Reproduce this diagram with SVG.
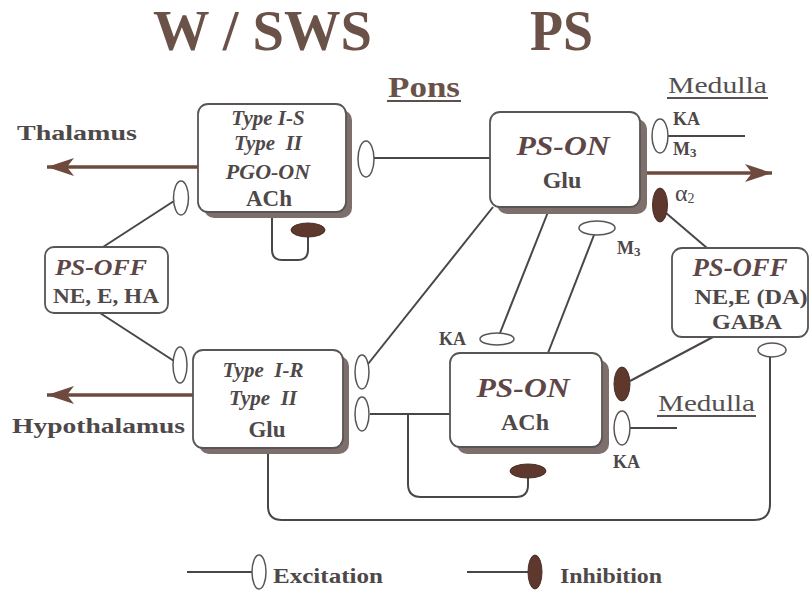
<svg xmlns="http://www.w3.org/2000/svg" width="811" height="590" viewBox="0 0 811 590">
<style>
.bg{fill:#ffffff}
.box{fill:#ffffff;stroke:#5a5555;stroke-width:1.8}
.shadow{fill:#7d6f6b}
.ln{fill:none;stroke:#4a4646;stroke-width:2}
.arr{fill:none;stroke:#6e4a3e;stroke-width:3.5}
.ex{fill:#ffffff;stroke:#5a5555;stroke-width:1.5}
.inh{fill:#5e382c;stroke:#4a2e26;stroke-width:1}
.t{font-family:"Liberation Serif","Times New Roman",serif;font-weight:bold;fill:#4e4848}
.it{font-style:italic}
.hd{fill:#5e4646}
.title{font-family:"Liberation Serif","Times New Roman",serif;font-weight:bold;fill:#6b5249;font-size:56px}
.ul{stroke:#5a5050;stroke-width:2}
</style>
<defs>
<marker id="ah" viewBox="-28 -10 30 20" markerUnits="userSpaceOnUse" markerWidth="30" markerHeight="20" refX="0" refY="0" orient="auto">
<path d="M0,0 L-27,-9 L-20,0 L-27,9 Z" fill="#6e4a3e"/>
</marker>
</defs>
<rect class="bg" x="0" y="0" width="811" height="590"/>

<g id="titles">
<text class="title" x="153" y="50" textLength="219" lengthAdjust="spacingAndGlyphs">W / SWS</text>
<text class="title" x="530" y="50" textLength="63" lengthAdjust="spacingAndGlyphs">PS</text>
<text class="t" x="388" y="97" font-size="29" style="fill:#6b5249" textLength="72" lengthAdjust="spacingAndGlyphs">Pons</text>
<line class="ul" x1="387" y1="101" x2="461" y2="101"/>
<text x="668" y="93" font-family="Liberation Serif, serif" font-size="23" fill="#555050" textLength="99" lengthAdjust="spacingAndGlyphs">Medulla</text>
<line class="ul" x1="667" y1="98" x2="768" y2="98"/>
<text x="658" y="411" font-family="Liberation Serif, serif" font-size="23" fill="#555050" textLength="97" lengthAdjust="spacingAndGlyphs">Medulla</text>
<line class="ul" x1="657" y1="416" x2="756" y2="416"/>
<text class="t" x="17" y="140" font-size="22" textLength="120" lengthAdjust="spacingAndGlyphs">Thalamus</text>
<text class="t" x="12" y="433" font-size="22" textLength="173" lengthAdjust="spacingAndGlyphs">Hypothalamus</text>
</g>

<g id="connectors">
<line class="arr" x1="198" y1="167" x2="47" y2="167" marker-end="url(#ah)"/>
<line class="arr" x1="193" y1="395" x2="47" y2="395" marker-end="url(#ah)"/>
<line class="arr" x1="646" y1="173" x2="772" y2="173" marker-end="url(#ah)"/>
<line class="ln" x1="374" y1="158" x2="490" y2="158"/>
<line class="ln" x1="103" y1="247" x2="174" y2="201"/>
<line class="ln" x1="100" y1="313" x2="174" y2="361"/>
<path class="ln" d="M272 216 V250 Q272 260 282 260 H298 Q308 260 308 250 V237"/>
<line class="ln" x1="368" y1="364" x2="493" y2="207"/>
<line class="ln" x1="370" y1="414" x2="450" y2="414"/>
<path class="ln" d="M408 414 V484 Q408 497 421 497 H516 Q528 497 528 485 V477"/>
<path class="ln" d="M268 453 V506 Q268 520 282 520 H754 Q770 520 770 504 V357"/>
<line class="ln" x1="668" y1="136" x2="745" y2="136"/>
<line class="ln" x1="666" y1="213" x2="707" y2="248"/>
<line class="ln" x1="548" y1="212" x2="500" y2="333"/>
<line class="ln" x1="594" y1="235" x2="548" y2="353"/>
<line class="ln" x1="630" y1="381" x2="713" y2="337"/>
<line class="ln" x1="630" y1="428" x2="677" y2="428"/>
<ellipse class="ex" cx="181" cy="198" rx="7.5" ry="17"/>
<ellipse class="ex" cx="366" cy="159" rx="8" ry="18"/>
<ellipse class="inh" cx="308" cy="230" rx="17" ry="7"/>
<ellipse class="ex" cx="180" cy="365" rx="7" ry="18"/>
<ellipse class="ex" cx="362" cy="372" rx="7" ry="17"/>
<ellipse class="ex" cx="362" cy="414" rx="7" ry="17"/>
<ellipse class="inh" cx="528" cy="471" rx="18" ry="7"/>
<ellipse class="ex" cx="660" cy="136" rx="8" ry="17"/>
<ellipse class="inh" cx="660" cy="205" rx="7.5" ry="17"/>
<ellipse class="ex" cx="597" cy="228" rx="18" ry="7"/>
<ellipse class="ex" cx="497" cy="339" rx="17" ry="6"/>
<ellipse class="inh" cx="622" cy="384" rx="8" ry="17"/>
<ellipse class="ex" cx="622" cy="428" rx="8" ry="17"/>
<ellipse class="ex" cx="772" cy="350" rx="14" ry="7"/>
<text class="t" x="673" y="125" font-size="18">KA</text>
<text class="t" x="673" y="155" font-size="18">M<tspan font-size="13" dy="2">3</tspan></text>
<text x="675" y="201" font-family="Liberation Serif, serif" font-size="24" fill="#4e4848">α<tspan font-size="14" dy="2">2</tspan></text>
<text class="t" x="617" y="254" font-size="18">M<tspan font-size="13" dy="2">3</tspan></text>
<text class="t" x="439" y="345" font-size="18">KA</text>
<text class="t" x="613" y="468" font-size="18">KA</text>
</g>

<g id="type1s">
<rect class="shadow" x="204" y="110" width="148" height="108" rx="10"/>
<rect class="box" x="198" y="104" width="148" height="108" rx="10"/>
<text class="t it" x="268" y="125" font-size="21" text-anchor="middle">Type I-S</text>
<text class="t it" x="268" y="150" font-size="21" text-anchor="middle" xml:space="preserve">Type  II</text>
<text class="t it" x="268" y="179" font-size="22" text-anchor="middle">PGO-ON</text>
<text class="t" x="269" y="206" font-size="23" text-anchor="middle">ACh</text>
</g>

<g id="psoff-left">
<rect class="box" x="45" y="247" width="123" height="66" rx="9"/>
<text class="t it hd" x="101" y="275" font-size="23" text-anchor="middle" textLength="92" lengthAdjust="spacingAndGlyphs">PS-OFF</text>
<text class="t" x="106" y="303" font-size="20" text-anchor="middle" textLength="106" lengthAdjust="spacingAndGlyphs">NE, E, HA</text>
</g>

<g id="type1r">
<rect class="shadow" x="199" y="356" width="150" height="98" rx="10"/>
<rect class="box" x="193" y="350" width="150" height="98" rx="10"/>
<text class="t it" x="263" y="377" font-size="21" text-anchor="middle" xml:space="preserve">Type  I-R</text>
<text class="t it" x="263" y="405" font-size="21" text-anchor="middle" xml:space="preserve">Type  II</text>
<text class="t" x="267" y="437" font-size="23" text-anchor="middle">Glu</text>
</g>

<g id="pson-glu">
<rect class="shadow" x="497" y="119" width="150" height="95" rx="10"/>
<rect class="box" x="490" y="112" width="150" height="95" rx="10"/>
<text class="t it hd" x="563" y="155" font-size="27" text-anchor="middle" textLength="93" lengthAdjust="spacingAndGlyphs">PS-ON</text>
<text class="t" x="562" y="188" font-size="24" text-anchor="middle">Glu</text>
</g>

<g id="psoff-right">
<rect class="box" x="672" y="248" width="136" height="89" rx="10"/>
<text class="t it hd" x="740" y="276" font-size="25" text-anchor="middle" textLength="95" lengthAdjust="spacingAndGlyphs">PS-OFF</text>
<text class="t" x="751" y="304" font-size="21" text-anchor="middle" textLength="113" lengthAdjust="spacingAndGlyphs">NE,E (DA)</text>
<text class="t" x="747" y="329" font-size="22" text-anchor="middle" textLength="70" lengthAdjust="spacingAndGlyphs">GABA</text>
</g>

<g id="pson-ach">
<rect class="shadow" x="457" y="360" width="152" height="94" rx="10"/>
<rect class="box" x="450" y="353" width="152" height="94" rx="10"/>
<text class="t it hd" x="523" y="397" font-size="27" text-anchor="middle" textLength="93" lengthAdjust="spacingAndGlyphs">PS-ON</text>
<text class="t" x="525" y="430" font-size="24" text-anchor="middle">ACh</text>
</g>

<g id="legend">
<line class="ln" x1="187" y1="572" x2="252" y2="572"/>
<ellipse class="ex" cx="259" cy="572" rx="7" ry="17"/>
<text class="t" x="273" y="583" font-size="22" textLength="110" lengthAdjust="spacingAndGlyphs">Excitation</text>
<line class="ln" x1="467" y1="572" x2="528" y2="572"/>
<ellipse class="inh" cx="535" cy="572" rx="7" ry="17"/>
<text class="t" x="560" y="583" font-size="22" textLength="102" lengthAdjust="spacingAndGlyphs">Inhibition</text>
</g>
</svg>
